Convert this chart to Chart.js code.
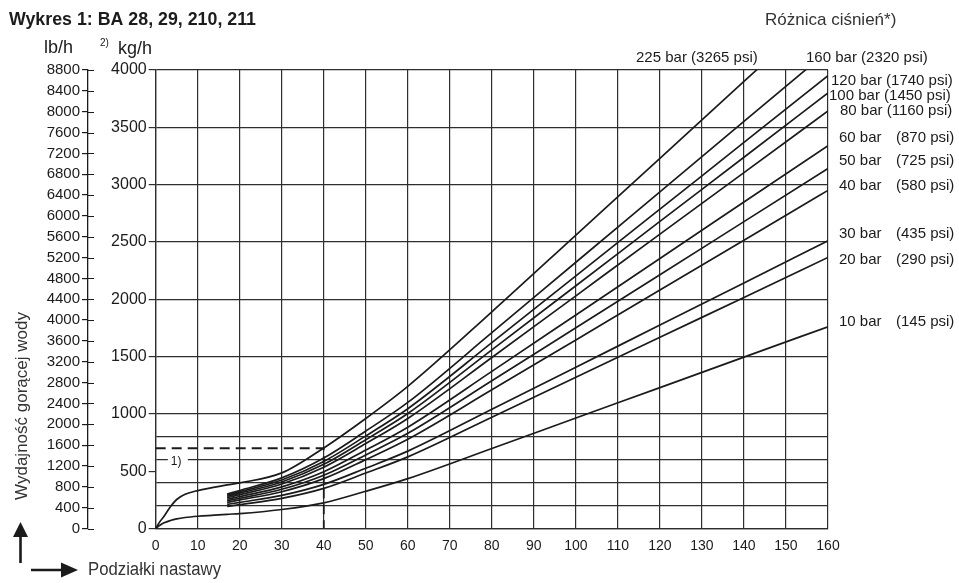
<!DOCTYPE html>
<html>
<head>
<meta charset="utf-8">
<script src="https://cdn.jsdelivr.net/npm/chart.js@4.4.1/dist/chart.umd.min.js"></script>
<style>
  html, body { margin: 0; padding: 0; background: #fff; }
  #chart { display: block; }
</style>
</head>
<body>
<canvas id="chart" width="959" height="583"></canvas>
<script>
// nastawa (x) i wydajność w kg/h dla kolejnych różnic ciśnień
const settingX = [0, 1, 2, 3.5, 5, 7, 10, 17, 20, 30, 40, 50, 60, 80, 100, 120, 140, 160];
const flow225 = [0, 60, 107, 190, 253, 298, 331, 380, 398, 485, 703, 960, 1240, 1890, 2560, 3230, 3900, 4570];
const flow160 = [null, null, null, null, null, null, null, 300, 332, 442, 615, 850, 1100, 1708, 2323, 2937, 3551, 4165];
const flow120 = [null, null, null, null, null, null, null, 290, 320, 423, 585, 808, 1045, 1621, 2204, 2786, 3368, 3950];
const flow100 = [null, null, null, null, null, null, null, 280, 308, 406, 560, 775, 1003, 1558, 2118, 2679, 3239, 3800];
const flow80 = [null, null, null, null, null, null, null, 268, 295, 388, 535, 741, 960, 1492, 2030, 2568, 3105, 3643];
const flow60 = [null, null, null, null, null, null, null, 255, 279, 363, 495, 684, 884, 1371, 1863, 2356, 2848, 3340];
const flow50 = [null, null, null, null, null, null, null, 242, 264, 342, 465, 642, 830, 1289, 1752, 2214, 2677, 3140];
const flow40 = [null, null, null, null, null, null, null, 228, 249, 321, 435, 601, 779, 1210, 1645, 2080, 2515, 2950];
const flow30 = [null, null, null, null, null, null, null, 210, 228, 289, 385, 526, 675, 1040, 1407, 1775, 2142, 2510];
const flow20 = [null, null, null, null, null, null, null, 192, 208, 263, 350, 484, 625, 971, 1319, 1668, 2016, 2365];
const flow10 = [0, 28, 50, 70, 84, 96, 107, 124, 130, 166, 224, 325, 435, 698, 964, 1229, 1495, 1760];

const barLabels = ['225 bar', '160 bar', '120 bar', '100 bar', '80 bar', '60 bar', '50 bar', '40 bar', '30 bar', '20 bar', '10 bar'];
const psiLabels = ['(3265 psi)', '(2320 psi)', '(1740 psi)', '(1450 psi)', '(1160 psi)', '(870 psi)', '(725 psi)', '(580 psi)', '(435 psi)', '(290 psi)', '(145 psi)'];

// linia pomocnicza (przykład odczytu)
const guideX = [0, 40, 40];
const guideY = [700, 700, 0];

const xTicks = [0, 10, 20, 30, 40, 50, 60, 70, 80, 90, 100, 110, 120, 130, 140, 150, 160];
const kgGrid = [0, 200, 400, 500, 600, 800, 1000, 1500, 2000, 2500, 3000, 3500, 4000];
const lbMax = 8800;
const lbStep = 400;

const FONT = "'Liberation Sans', Arial, sans-serif";
const NARROW = "'Liberation Sans Narrow', 'Liberation Sans', Arial, sans-serif";
const INK = '#1b1b1b';
const GRID = '#2e2e2e';

const allFlows = [flow225, flow160, flow120, flow100, flow80, flow60, flow50, flow40, flow30, flow20, flow10];

const datasets = allFlows.map((vals, i) => ({
    label: barLabels[i],
    data: settingX.map((x, j) => ({ x: x, y: vals[j] })).filter(p => p.y !== null),
    showLine: true,
    borderColor: INK,
    borderWidth: 1.7,
    pointRadius: 0,
    cubicInterpolationMode: 'monotone',
    clip: 0
}));

datasets.push({
    label: 'guide',
    data: guideX.map((x, j) => ({ x: x, y: guideY[j] })),
    showLine: true,
    borderColor: INK,
    borderWidth: 1.8,
    borderDash: [10, 6],
    pointRadius: 0,
    clip: 0
});

// teksty opisowe i strzałki
const annotations = {
    id: 'annotations',
    beforeDatasetsDraw(chart) {
        const c = chart.ctx;
        const xs = chart.scales.x, ys = chart.scales.y;
        const px = xs.getPixelForValue(3.6), py = ys.getPixelForValue(600);
        c.save();
        c.fillStyle = '#fff';
        c.fillRect(px - 3, py - 7, 20, 14);
        c.fillStyle = INK;
        c.font = '12px ' + FONT;
        c.textBaseline = 'middle';
        c.fillText('1)', px, py + 2);
        c.restore();
    },
    afterDraw(chart) {
        const c = chart.ctx;
        const lb = chart.scales.lb;
        c.save();
        // kreski osi lb/h po prawej stronie osi
        c.strokeStyle = INK;
        c.lineWidth = 1.2;
        c.beginPath();
        lb.ticks.forEach(t => {
            const y = Math.round(lb.getPixelForValue(t.value)) + 0.5;
            c.moveTo(lb.right, y);
            c.lineTo(lb.right + 6, y);
        });
        c.stroke();

        c.fillStyle = INK;
        c.textBaseline = 'middle';

        c.font = 'bold 18px ' + NARROW;
        c.fillText('Wykres 1: BA 28, 29, 210, 211', 9, 20, 247);

        c.font = '18px ' + FONT;
        c.fillText('lb/h', 44, 48, 42);
        c.fillText('kg/h', 118, 49, 43);
        c.font = '10px ' + FONT;
        c.fillText('2)', 100, 43);

        c.fillStyle = '#333';
        c.font = '17px ' + NARROW;
        c.fillText('Różnica ciśnień*)', 765, 20, 141);

        c.fillStyle = INK;
        const pos = [[636, 58], [806, 58], [831, 81], [829, 96], [840, 111],
                     [839, 138], [839, 161], [839, 186], [839, 234], [839, 260], [839, 322]];
        pos.forEach((p, i) => {
            if (i < 5) {
                c.font = '15px ' + FONT;
                c.fillText(barLabels[i] + ' ' + psiLabels[i], p[0], p[1], i < 2 ? 126 : 122);
            } else {
                c.font = '15px ' + FONT;
                c.fillText(barLabels[i], p[0], p[1]);
                c.fillText(psiLabels[i], 896, p[1]);
            }
        });

        // opis osi Y
        c.fillStyle = '#333';
        c.save();
        c.translate(22, 406);
        c.rotate(-Math.PI / 2);
        c.textAlign = 'center';
        c.font = '17px ' + NARROW;
        c.fillText('Wydajność gorącej wody', 0, 0, 193);
        c.restore();

        c.font = '18px ' + NARROW;
        c.fillText('Podziałki nastawy', 88, 570, 133);

        // strzałki
        c.fillStyle = INK;
        c.strokeStyle = INK;
        c.lineWidth = 2.6;
        c.beginPath();
        c.moveTo(20.5, 563); c.lineTo(20.5, 534);
        c.moveTo(31, 570); c.lineTo(63, 570);
        c.stroke();
        c.beginPath();
        c.moveTo(13, 537); c.lineTo(28, 537); c.lineTo(20.5, 522); c.closePath();
        c.fill();
        c.beginPath();
        c.moveTo(61, 562.5); c.lineTo(61, 577.5); c.lineTo(78, 570); c.closePath();
        c.fill();
        c.restore();
    }
};

const ctx = document.getElementById('chart').getContext('2d');
const chart = new Chart(ctx, {
    type: 'scatter',
    data: { datasets: datasets },
    plugins: [annotations],
    options: {
        responsive: false,
        animation: false,
        events: [],
        layout: { padding: { left: 0, top: 70, right: 131, bottom: 0 } },
        plugins: {
            legend: { display: false },
            tooltip: { enabled: false }
        },
        scales: {
            x: {
                type: 'linear',
                min: 0,
                max: 160,
                afterBuildTicks: (scale) => { scale.ticks = xTicks.map(v => ({ value: v })); },
                afterFit: (scale) => { scale.height = 54.5; },
                grid: { color: GRID, lineWidth: 1.2, drawTicks: false },
                border: { color: GRID, width: 1.3 },
                ticks: { autoSkip: false, maxRotation: 0, padding: 9, color: INK, font: { family: FONT, size: 14 } }
            },
            y: {
                type: 'linear',
                position: 'left',
                weight: 0,
                min: 0,
                max: 4000,
                afterBuildTicks: (scale) => { scale.ticks = kgGrid.map(v => ({ value: v })); },
                afterFit: (scale) => { scale.width = 67.7; },
                grid: {
                    color: (c) => (c.tick && c.tick.value === 500) ? 'rgba(0,0,0,0)' : GRID,
                    lineWidth: 1.2,
                    tickLength: 7,
                    tickColor: (c) => (c.tick && c.tick.value % 500 === 0) ? GRID : 'rgba(0,0,0,0)'
                },
                border: { color: GRID, width: 1.3 },
                ticks: {
                    autoSkip: false,
                    padding: 2,
                    color: INK,
                    font: { family: FONT, size: 16 },
                    callback: (v) => v % 500 === 0 ? String(v) : ''
                }
            },
            lb: {
                type: 'linear',
                position: 'left',
                weight: 1,
                min: 0,
                max: lbMax,
                afterBuildTicks: (scale) => {
                    const t = [];
                    for (let v = 0; v <= lbMax; v += lbStep) t.push({ value: v });
                    scale.ticks = t;
                },
                afterFit: (scale) => { scale.width = 88; },
                grid: { drawOnChartArea: false, tickLength: 6, tickColor: INK, lineWidth: 1.2 },
                border: { color: INK, width: 1.3 },
                ticks: {
                    autoSkip: false,
                    padding: 2,
                    color: INK,
                    font: { family: FONT, size: 15 },
                    callback: (v) => String(v)
                }
            }
        }
    }
});
</script>
</body>
</html>
